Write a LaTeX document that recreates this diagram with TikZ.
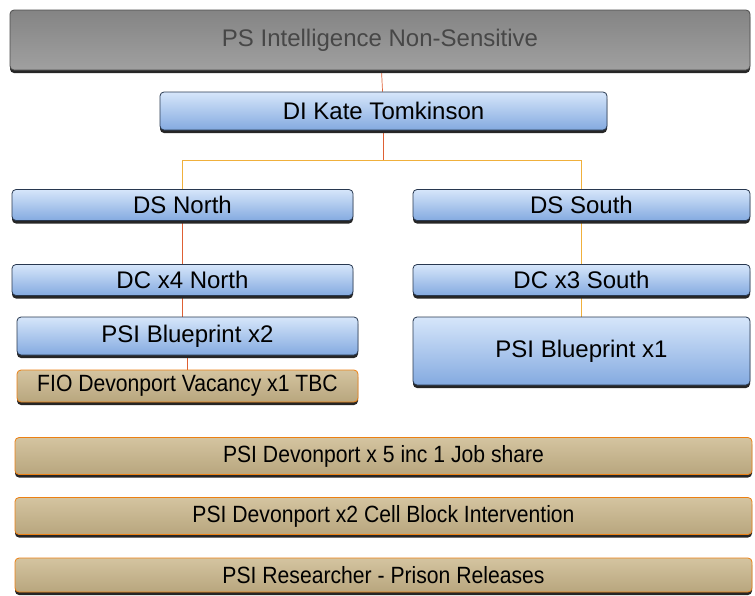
\documentclass[tikz,border=0pt]{standalone}
\usepackage{fontspec}
\setmainfont{Liberation Sans}
\newfontfamily\narrowsans[FakeStretch=0.9]{Liberation Sans}
\usetikzlibrary{positioning, calc, shadows, backgrounds}
\definecolor{cTop}{RGB}{132,132,132}
\definecolor{cTopL}{RGB}{160,160,160}
\definecolor{cBlueL}{RGB}{214,230,250}
\definecolor{cBlueD}{RGB}{132,170,224}
\definecolor{cTanL}{RGB}{212,196,160}
\definecolor{cTanD}{RGB}{184,166,126}
\definecolor{cEdge}{RGB}{40,56,80}
\definecolor{cLink}{RGB}{222,96,52}
\definecolor{cBus}{RGB}{240,176,60}

\begin{document}
\begin{tikzpicture}[x=1pt, y=-1pt, thick,
    box/.style={rounded corners=4pt, inner sep=0pt, draw=cEdge, line width=0.8pt,
                font=\fontsize{24}{27}\selectfont,
                drop shadow={shadow xshift=0pt, shadow yshift=-3pt, fill=black!85, opacity=1}},
    head/.style={box, top color=cTop, bottom color=cTopL, draw=black!70, text=black!72},
    blue/.style={box, top color=cBlueL, bottom color=cBlueD},
    tan/.style={box, top color=cTanL, bottom color=cTanD, draw=orange!70!brown,
                font=\narrowsans\fontsize{23.5}{26}\selectfont},
    link/.style={cLink, line width=0.7pt}]

    \useasboundingbox (0,0) rectangle (755,595);

    % Nodes
    \node[head, minimum width=740pt, minimum height=60pt] (PS) at (380,40) {PS Intelligence Non-Sensitive};
    \node[blue, minimum width=447pt, minimum height=38pt] (DI) at (383.5,111) {DI Kate Tomkinson};
    \node[blue, minimum width=341pt, minimum height=31pt] (DSN) at (182.5,205) {DS North};
    \node[blue, minimum width=337pt, minimum height=31pt] (DSS) at (581.5,205) {DS South};
    \node[blue, minimum width=341pt, minimum height=31pt] (DCN) at (182.5,280) {DC x4 North};
    \node[blue, minimum width=337pt, minimum height=31pt] (DCS) at (581.5,280) {DC x3 South};
    \node[blue, minimum width=341pt, minimum height=38pt] (BPN) at (187.5,336) {PSI Blueprint x2};
    \node[blue, minimum width=337pt, minimum height=68pt] (BPS) at (581.5,351) {PSI Blueprint x1};
    \node[tan, minimum width=341pt, minimum height=32pt] (FIO) at (187.5,386) {FIO Devonport Vacancy x1 TBC};
    \node[tan, minimum width=737pt, minimum height=37pt] (DEV5) at (383.5,456) {PSI Devonport x 5 inc 1 Job share};
    \node[tan, minimum width=737pt, minimum height=37pt] (DEV2) at (383.5,516) {PSI Devonport x2 Cell Block Intervention};
    \node[tan, minimum width=737pt, minimum height=34pt] (RES) at (383.5,575) {PSI Researcher - Prison Releases};

    \coordinate (bus) at (383.5,160);

    % Links
    \begin{scope}[on background layer]
        \draw[link] (PS) -- (DI);
        \draw[link] (DI) -- (bus);
        \draw[cBus, line width=0.7pt] (bus) -| (DSN);
        \draw[cBus, line width=0.7pt] (bus) -| (DSS);
        \draw[link] (DSN) -- (DCN);
        \draw[link] (DCN.south) -- (DCN.south |- BPN.north);
        \draw[link] (BPN) -- (FIO);
        \draw[cBus, line width=0.7pt] (DSS) -- (DCS);
        \draw[cBus, line width=0.7pt] (DCS) -- (BPS);
    \end{scope}

\end{tikzpicture}
\end{document}
